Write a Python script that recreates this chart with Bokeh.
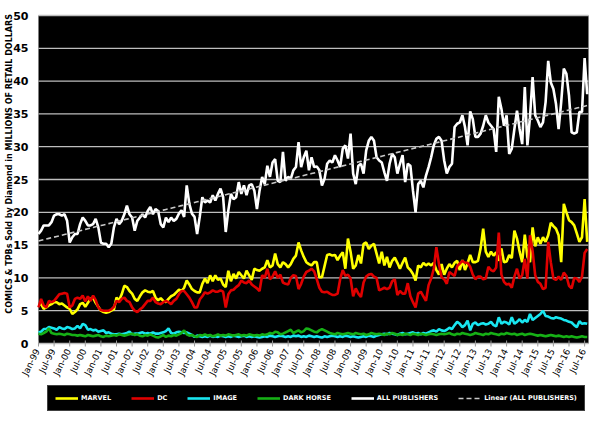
import numpy as np
from bokeh.plotting import figure
from bokeh.models import (Range1d, Legend, LegendItem, ColumnDataSource, BoxAnnotation)
from bokeh.core.properties import value
from bokeh.embed import file_html
from bokeh.resources import INLINE

tick_labels = ["Jan-99", "Jul-99", "Jan-00", "Jul-00", "Jan-01", "Jul-01", "Jan-02", "Jul-02",
               "Jan-03", "Jul-03", "Jan-04", "Jul-04", "Jan-05", "Jul-05", "Jan-06", "Jul-06",
               "Jan-07", "Jul-07", "Jan-08", "Jul-08", "Jan-09", "Jul-09", "Jan-10", "Jul-10",
               "Jan-11", "Jul-11", "Jan-12", "Jul-12", "Jan-13", "Jul-13", "Jan-14", "Jul-14",
               "Jan-15", "Jul-15", "Jan-16", "Jul-16"]

all_publishers = [
    16.7, 17.2, 18.0, 18.0, 18.0, 18.5, 19.5, 19.7, 19.7, 19.5, 19.7, 18.7,
    15.4, 16.2, 16.7, 16.7, 18.2, 19.2, 18.7, 18.0, 18.0, 18.2, 19.0, 17.7,
    15.4, 15.2, 15.2, 14.7, 15.2, 17.7, 19.0, 18.2, 18.7, 19.7, 21.0, 19.7,
    19.2, 17.2, 18.7, 19.2, 19.7, 19.2, 20.2, 20.8, 19.7, 20.5, 20.2, 18.2,
    17.7, 19.2, 18.5, 19.2, 18.7, 19.0, 19.8, 20.3, 19.3, 24.1, 21.3, 19.8,
    19.3, 16.7, 19.3, 22.3, 21.5, 21.8, 21.5, 22.6, 21.8, 22.8, 23.6, 22.3,
    17.0, 20.3, 22.8, 22.0, 22.3, 24.6, 22.8, 24.1, 22.6, 24.1, 24.3, 23.3,
    20.5, 23.3, 25.4, 24.3, 27.1, 25.4, 27.6, 28.1, 24.8, 24.6, 29.2, 24.8,
    25.4, 25.1, 26.4, 26.9, 30.7, 26.9, 28.4, 29.4, 26.4, 28.4, 26.9, 27.0,
    26.4, 24.1, 25.1, 27.4, 27.9, 27.6, 28.7, 27.9, 26.9, 29.7, 30.2, 28.2,
    32.0, 25.9, 24.3, 27.1, 27.4, 25.9, 29.4, 30.9, 31.5, 30.9, 28.4, 27.9,
    27.6, 26.1, 24.8, 27.4, 28.9, 28.4, 25.9, 27.4, 28.7, 24.6, 27.4, 27.1,
    23.3, 20.0, 24.3, 24.8, 23.8, 25.6, 26.9, 28.4, 30.2, 31.2, 31.5, 30.9,
    27.9, 25.9, 26.9, 27.4, 33.0, 33.5, 33.7, 34.8, 33.0, 30.2, 35.4, 34.2,
    31.5, 31.5, 32.0, 33.2, 34.8, 33.7, 33.2, 32.7, 29.2, 37.6, 35.8, 33.2,
    34.8, 28.9, 29.7, 32.7, 35.5, 32.7, 30.4, 39.1, 30.2, 34.5, 40.6, 34.8,
    34.0, 33.0, 33.7, 36.8, 43.1, 39.8, 38.8, 36.5, 32.7, 36.8, 41.9, 41.1,
    37.8, 32.2, 32.0, 32.2, 35.3, 35.3, 43.5, 38.0]

marvel = [
    5.8, 6.0, 5.3, 5.5, 5.8, 6.0, 6.3, 6.3, 6.0, 6.1, 5.8, 5.5,
    5.3, 4.5, 4.8, 5.2, 6.0, 6.2, 5.6, 6.2, 6.8, 7.0, 6.2, 5.6,
    5.0, 4.8, 4.7, 4.8, 5.0, 5.2, 7.0, 6.6, 7.5, 8.8, 8.6, 8.0,
    7.6, 6.8, 6.5, 7.2, 7.8, 8.1, 7.9, 7.8, 8.0, 7.0, 6.6, 6.9,
    6.5, 6.3, 6.8, 7.2, 7.4, 7.8, 8.2, 8.0, 8.5, 9.6, 9.0, 8.3,
    8.0, 7.8, 7.8, 9.1, 9.9, 9.2, 10.4, 9.5, 10.4, 9.7, 9.9, 9.0,
    8.6, 11.1, 9.5, 10.6, 9.9, 10.9, 10.4, 9.9, 11.1, 10.4, 9.7, 11.4,
    11.2, 11.1, 11.4, 11.6, 12.7, 11.6, 11.9, 13.7, 12.1, 11.6, 12.4, 12.1,
    11.6, 12.1, 12.9, 13.4, 15.4, 14.2, 13.2, 12.4, 12.1, 11.9, 12.4, 12.4,
    10.1, 10.1, 11.8, 13.5, 13.6, 13.4, 13.5, 12.7, 13.4, 13.9, 11.4, 16.0,
    14.0, 11.4, 11.9, 13.5, 12.2, 15.2, 15.4, 14.4, 14.9, 15.2, 13.7, 12.2,
    14.0, 11.9, 13.2, 11.6, 12.6, 13.1, 12.3, 11.4, 12.3, 13.1, 11.6, 11.2,
    10.6, 9.6, 11.9, 11.6, 12.3, 11.9, 12.2, 11.9, 12.3, 11.2, 10.5, 12.1,
    10.5, 11.4, 12.1, 11.6, 12.3, 12.6, 11.2, 12.7, 11.2, 12.2, 13.5, 12.4,
    12.4, 12.6, 14.5, 17.5, 14.0, 13.2, 14.0, 13.4, 13.9, 12.6, 14.5, 12.4,
    12.5, 13.5, 13.0, 17.2, 16.0, 14.0, 12.4, 16.6, 13.2, 12.4, 17.7, 14.8,
    16.2, 15.2, 16.2, 15.5, 16.5, 18.4, 17.9, 17.5, 16.5, 12.4, 21.3, 20.0,
    18.8, 18.5, 18.0, 16.8, 15.5, 16.2, 22.0, 15.5]

dc = [
    5.5, 6.8, 5.8, 5.5, 6.5, 6.3, 6.5, 7.0, 7.5, 7.6, 7.7, 7.6,
    5.5, 5.8, 6.8, 7.0, 6.8, 7.3, 6.4, 7.2, 6.5, 7.3, 6.6, 5.5,
    5.1, 5.0, 5.0, 5.0, 5.2, 5.6, 6.5, 6.3, 6.8, 7.0, 6.5, 6.3,
    5.5, 5.0, 4.8, 5.2, 5.5, 6.0, 6.5, 6.5, 7.0, 6.3, 6.1, 6.0,
    6.3, 6.5, 6.3, 6.0, 6.5, 6.8, 7.5, 8.0, 8.0, 7.5, 7.0, 6.3,
    5.5, 5.5, 6.7, 7.2, 7.8, 7.6, 7.8, 8.1, 7.9, 7.9, 8.1, 7.9,
    5.5, 7.5, 8.1, 8.2, 8.6, 8.9, 9.6, 9.3, 9.2, 9.6, 9.0, 8.7,
    8.4, 8.0, 10.4, 10.0, 11.4, 9.8, 10.2, 11.0, 10.0, 10.5, 9.3, 9.1,
    9.0, 10.0, 10.4, 10.3, 8.3, 9.1, 10.2, 10.9, 11.1, 11.4, 11.0, 9.8,
    8.5, 7.9, 7.8, 7.9, 7.6, 7.4, 7.4, 7.6, 9.8, 11.2, 10.3, 10.5,
    9.9, 7.2, 8.4, 7.6, 7.1, 9.3, 10.2, 10.5, 10.6, 10.2, 10.0, 8.1,
    8.3, 8.5, 8.3, 8.5, 9.5, 9.8, 7.4, 8.0, 7.6, 7.6, 9.2, 7.2,
    6.3, 5.5, 7.6, 7.9, 7.2, 6.5, 8.9, 9.9, 11.4, 14.7, 12.1, 10.1,
    9.8, 9.1, 10.9, 10.6, 10.3, 11.8, 12.2, 12.6, 12.3, 12.3, 11.7, 10.5,
    9.8, 10.2, 10.2, 9.8, 9.9, 11.7, 11.2, 11.0, 11.6, 16.9, 10.5, 9.4,
    9.0, 9.1, 8.5, 10.2, 11.4, 9.9, 10.4, 12.9, 9.9, 16.5, 14.1, 10.4,
    9.4, 9.1, 8.3, 8.5, 15.5, 12.4, 9.9, 9.7, 10.2, 9.7, 10.8, 10.3,
    8.8, 8.4, 10.0, 9.9, 9.4, 10.2, 13.8, 14.4]

image = [
    1.7, 1.8, 2.2, 2.2, 2.5, 2.4, 2.3, 2.1, 2.5, 2.3, 2.2, 2.5,
    2.4, 2.2, 2.3, 2.7, 2.3, 3.0, 2.8, 2.1, 2.2, 2.0, 2.1, 1.8,
    1.9, 2.0, 1.6, 1.7, 1.5, 1.4, 1.4, 1.5, 1.4, 1.5, 1.6, 1.8,
    1.4, 1.5, 1.5, 1.6, 1.7, 1.5, 1.6, 1.5, 1.7, 1.5, 1.5, 1.6,
    1.7, 1.9, 2.3, 1.6, 1.5, 1.7, 1.8, 1.7, 1.6, 1.7, 1.5, 1.3,
    1.0, 1.2, 1.1, 1.0, 1.1, 1.0, 1.2, 1.0, 1.1, 1.0, 1.2, 1.1,
    1.0, 1.1, 1.0, 1.2, 1.1, 1.0, 1.1, 1.2, 1.0, 1.1, 1.0, 1.1,
    1.0, 0.9, 1.0, 1.1, 1.0, 1.2, 1.1, 1.0, 1.1, 1.2, 1.1, 1.0,
    1.1, 1.0, 1.2, 1.1, 1.2, 1.0, 1.1, 1.0, 1.2, 1.1, 1.0, 1.1,
    1.0, 0.9, 1.1, 1.0, 1.1, 1.2, 1.1, 1.0, 1.1, 1.0, 1.2, 1.1,
    1.0, 1.1, 1.0, 0.9, 1.0, 1.1, 1.0, 1.2, 1.1, 1.0, 1.2, 1.3,
    1.4, 1.5, 1.4, 1.6, 1.5, 1.4, 1.3, 1.5, 1.6, 1.4, 1.5, 1.6,
    1.7, 1.5, 1.6, 1.4, 1.6, 1.5, 1.7, 1.9, 2.0, 1.8, 2.2, 2.0,
    1.9, 2.1, 2.4, 2.2, 2.8, 3.3, 3.0, 2.5, 2.8, 3.5, 2.0, 3.0,
    3.2, 2.8, 3.0, 3.1, 2.9, 3.0, 3.3, 2.8, 2.6, 4.0, 3.0, 3.3,
    3.2, 2.9, 4.0, 3.0, 3.3, 3.7, 3.2, 3.6, 3.3, 4.5, 3.6, 3.9,
    4.2, 4.5, 5.0, 4.2, 4.1, 3.9, 3.8, 4.0, 3.9, 3.8, 3.6, 3.5,
    3.3, 3.2, 2.8, 2.5, 3.4, 3.0, 3.1, 3.0]

dark_horse = [
    1.5, 1.4, 1.6, 1.8, 2.3, 1.6, 1.5, 1.4, 1.5, 1.4, 1.3, 1.5,
    1.4, 1.3, 1.3, 1.2, 1.3, 1.2, 1.1, 1.3, 1.2, 1.1, 1.2, 1.3,
    1.1, 1.0, 1.2, 1.1, 1.2, 1.3, 1.2, 1.4, 1.3, 1.2, 1.3, 1.4,
    1.5, 1.3, 1.4, 1.2, 1.1, 1.3, 1.2, 1.4, 1.2, 1.0, 0.9, 1.1,
    1.3, 1.0, 1.2, 1.1, 1.3, 1.2, 1.4, 1.6, 2.0, 1.4, 1.2, 1.3,
    1.1, 1.0, 1.3, 1.2, 1.4, 1.2, 1.3, 1.1, 1.2, 1.4, 1.2, 1.3,
    1.2, 1.4, 1.3, 1.2, 1.3, 1.4, 1.2, 1.3, 1.2, 1.4, 1.3, 1.2,
    1.3, 1.2, 1.4, 1.3, 1.4, 1.6, 1.5, 1.8, 1.7, 1.4, 1.5, 1.7,
    1.9, 2.1, 1.6, 1.8, 2.0, 1.7, 1.9, 2.3, 2.2, 2.0, 1.8, 1.7,
    2.0, 2.2, 2.0, 1.8, 1.6, 1.5, 1.4, 1.6, 1.5, 1.4, 1.5, 1.6,
    1.5, 1.4, 1.6, 1.5, 1.4, 1.5, 1.3, 1.4, 1.6, 1.5, 1.4, 1.5,
    1.4, 1.3, 1.5, 1.4, 1.6, 1.5, 1.3, 1.4, 1.3, 1.5, 1.4, 1.3,
    1.5, 1.4, 1.3, 1.5, 1.4, 1.3, 1.4, 1.5, 1.4, 1.3, 1.4, 1.5,
    1.4, 1.5, 1.6, 1.4, 1.3, 1.5, 1.4, 1.6, 1.5, 1.4, 1.3, 1.4,
    1.6, 1.5, 1.4, 1.3, 1.5, 1.4, 1.6, 1.5, 1.4, 1.3, 1.5, 1.4,
    1.6, 1.5, 1.4, 1.5, 1.3, 1.4, 1.5, 1.3, 1.4, 1.5, 1.4, 1.3,
    1.2, 1.3, 1.2, 1.1, 1.2, 1.3, 1.2, 1.1, 1.2, 1.1, 1.0, 1.1,
    1.0, 1.1, 1.0, 0.9, 1.0, 1.1, 1.0, 1.0]

months = list(range(len(all_publishers)))
tick_positions = [6 * i for i in range(len(tick_labels))]
y_ticks = list(range(0, 51, 5))
y_tick_labels = [str(t) for t in y_ticks]
y_title = "COMICS & TPBs Sold by Diamond  in MILLIONS OF RETAIL DOLLARS"

# linear trendline of ALL PUBLISHERS (least squares)
coef = np.polyfit(months, all_publishers, 1)
trend = list(np.polyval(coef, months))

src = ColumnDataSource(dict(m=months, marvel=marvel, dc=dc, image=image,
                            dark_horse=dark_horse, all=all_publishers, trend=trend))

FONT = "DejaVu Sans"
X_MIN, X_MAX = 0, 211.5          # plotted month span
Y_MIN, Y_MAX = 0, 50             # value axis span
# the frame fills the whole figure, so labels, title and legend live inside it
VIEW_X = (-14.61, 216.11)
VIEW_Y = (-12.50, 52.29)

p = figure(width=600, height=425, output_backend="svg", toolbar_location=None,
           x_range=Range1d(*VIEW_X), y_range=Range1d(*VIEW_Y),
           x_axis_location=None, y_axis_location=None,
           background_fill_color="white", border_fill_color="white",
           min_border_left=0, min_border_right=0, min_border_top=0, min_border_bottom=0)
p.outline_line_color = None
p.grid.visible = False

# black plot area
p.add_layout(BoxAnnotation(left=X_MIN, right=X_MAX, bottom=Y_MIN, top=Y_MAX,
                           fill_color="black", fill_alpha=1.0, line_color=None, level="image"))

# horizontal grid lines across the plot area
p.segment(x0=[X_MIN] * len(y_ticks), x1=[X_MAX] * len(y_ticks), y0=y_ticks, y1=y_ticks,
          line_color="#bdbdbd", line_width=1.3, level="underlay")

# value labels and axis title
p.text(x=[X_MIN] * len(y_ticks), y=y_ticks, text=y_tick_labels, text_align="right",
       text_baseline="middle", x_offset=-10, text_font=value(FONT),
       text_font_size=value("11px"), text_font_style="bold", text_color="black")
p.text(x=[X_MIN], y=[27.6], text=[y_title], angle=np.pi / 2, text_align="center",
       text_baseline="middle", x_offset=-29, text_font=value(FONT),
       text_font_size=value("8px"), text_font_style="bold", text_color="black")

# date labels and tick marks under the plot area
p.scatter(x=tick_positions, y=[Y_MIN] * len(tick_positions), marker="dash", angle=np.pi / 2,
          size=6, line_color="#9a9a9a", line_width=1)
p.text(x=tick_positions, y=[Y_MIN] * len(tick_positions), text=tick_labels, angle=1.1,
       text_align="right", text_baseline="middle", x_offset=-1, y_offset=6,
       text_font=value(FONT), text_font_size=value("9px"), text_color="black")

r_marvel = p.line("m", "marvel", source=src, line_color="#ffff00", line_width=2.6)
r_dc = p.line("m", "dc", source=src, line_color="#e00000", line_width=2.6)
r_image = p.line("m", "image", source=src, line_color="#19e6f0", line_width=2.6)
r_dh = p.line("m", "dark_horse", source=src, line_color="#16b016", line_width=2.6)
r_all = p.line("m", "all", source=src, line_color="white", line_width=2.6)
r_trend = p.line("m", "trend", source=src, line_color="#c8c8c8", line_width=1.6, line_dash="5 3")

legend = Legend(items=[
    LegendItem(label="MARVEL", renderers=[r_marvel]),
    LegendItem(label="DC", renderers=[r_dc]),
    LegendItem(label="IMAGE", renderers=[r_image]),
    LegendItem(label="DARK HORSE", renderers=[r_dh]),
    LegendItem(label="ALL PUBLISHERS", renderers=[r_all]),
    LegendItem(label="Linear (ALL PUBLISHERS)", renderers=[r_trend]),
], orientation="horizontal", location=(47, 14))
legend.background_fill_color = "black"
legend.background_fill_alpha = 1.0
legend.border_line_color = "#808080"
legend.border_line_width = 1.5
legend.label_text_color = "white"
legend.label_text_font = FONT
legend.label_text_font_style = "bold"
legend.label_text_font_size = "6.5px"
legend.glyph_width = 23
legend.glyph_height = 10
legend.label_height = 10
legend.label_width = 10
legend.label_standoff = 3
legend.spacing = 20
legend.padding = 7
legend.margin = 0
p.add_layout(legend)

open("out.html", "w").write(file_html(p, INLINE))
